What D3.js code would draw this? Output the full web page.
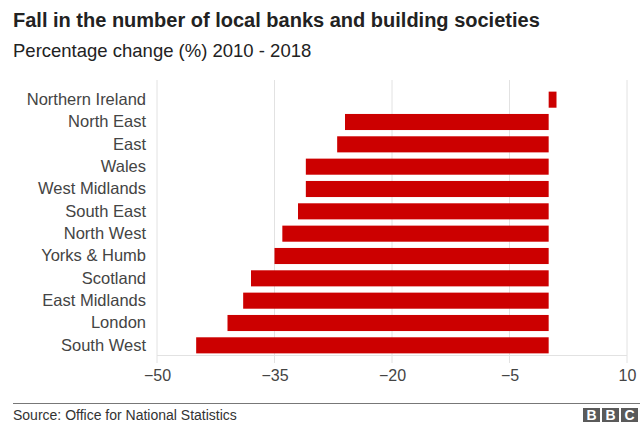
<!DOCTYPE html>
<html>
<head>
<meta charset="utf-8">
<script src="https://cdn.jsdelivr.net/npm/d3@7"></script>
<style>
	body { margin: 0; background: #fff; }
	text { font-family: "Liberation Sans", Arial, sans-serif; }
</style>
</head>
<body>
<div id="chart"></div>
<script>
// regions, top to bottom as drawn
const regions = ["Northern Ireland", "North East", "East", "Wales", "West Midlands", "South East",
	"North West", "Yorks & Humb", "Scotland", "East Midlands", "London", "South West"]
// percentage change 2010 - 2018
const changes = [1, -26, -27, -31, -31, -32, -34, -35, -38, -39, -41, -45]
const tickValues = [-50, -35, -20, -5, 10]

const width = 640
const height = 426

const svg = d3.select("#chart")
	.append("svg")
	.attr("width", width)
	.attr("height", height)

svg.append("text")
	.attr("x", 13)
	.attr("y", 27)
	.attr("font-size", 20)
	.attr("font-weight", "bold")
	.attr("fill", "#222")
	.text("Fall in the number of local banks and building societies")

svg.append("text")
	.attr("x", 13)
	.attr("y", 57)
	.attr("font-size", 18.5)
	.attr("fill", "#222")
	.text("Percentage change (%) 2010 - 2018")

const x = d3.scaleLinear()
	.domain([-50, 10])
	.range([157, 627])

const y = d3.scaleBand()
	.domain(regions)
	.range([88.5, 356.5])
	.paddingInner(0.28)
	.paddingOuter(0.14)

// gridlines
svg.append("g")
	.selectAll("line")
	.data(tickValues)
	.join("line")
	.attr("x1", d => x(d))
	.attr("x2", d => x(d))
	.attr("y1", 80)
	.attr("y2", 363)
	.attr("stroke", "#e2e2e2")
	.attr("stroke-width", 1)

svg.append("line")
	.attr("x1", x(-50))
	.attr("x2", x(10))
	.attr("y1", 355.5)
	.attr("y2", 355.5)
	.attr("stroke", "#e2e2e2")

// x axis labels
const xAxis = g => g
	.attr("transform", "translate(0,363)")
	.call(d3.axisBottom(x).tickValues(tickValues).tickSize(0).tickPadding(7))
	.call(g => g.select(".domain").remove())
	.call(g => g.selectAll("text")
		.attr("font-size", 16)
		.attr("font-family", "Liberation Sans, Arial, sans-serif")
		.attr("fill", "#444"))

svg.append("g").call(xAxis)

// region labels
const yAxis = g => g
	.attr("transform", "translate(146,0)")
	.call(d3.axisLeft(y).tickSize(0).tickPadding(0))
	.call(g => g.select(".domain").remove())
	.call(g => g.selectAll("text")
		.attr("font-size", 16.5)
		.attr("font-family", "Liberation Sans, Arial, sans-serif")
		.attr("fill", "#444"))

svg.append("g").call(yAxis)

// bars
svg.append("g")
	.attr("fill", "#cc0000")
	.selectAll("rect")
	.data(changes)
	.join("rect")
	.attr("x", d => x(Math.min(0, d)))
	.attr("width", d => Math.abs(x(d) - x(0)))
	.attr("y", (d, i) => y(regions[i]))
	.attr("height", y.bandwidth())

// footer
svg.append("line")
	.attr("x1", 13)
	.attr("x2", 640)
	.attr("y1", 403.5)
	.attr("y2", 403.5)
	.attr("stroke", "#777")
	.attr("stroke-width", 1)

svg.append("text")
	.attr("x", 13)
	.attr("y", 420)
	.attr("font-size", 14)
	.attr("fill", "#333")
	.text("Source: Office for National Statistics")

const logo = svg.append("g")
	.selectAll("g")
	.data(["B", "B", "C"])
	.join("g")
	.attr("transform", (d, i) => `translate(${583 + i * 19},408)`)

logo.append("rect")
	.attr("width", 17)
	.attr("height", 14)
	.attr("fill", "#5a5a5a")

logo.append("text")
	.attr("x", 8.5)
	.attr("y", 12)
	.attr("text-anchor", "middle")
	.attr("font-size", 14)
	.attr("font-weight", "bold")
	.attr("fill", "#fff")
	.text(d => d)
</script>
</body>
</html>
